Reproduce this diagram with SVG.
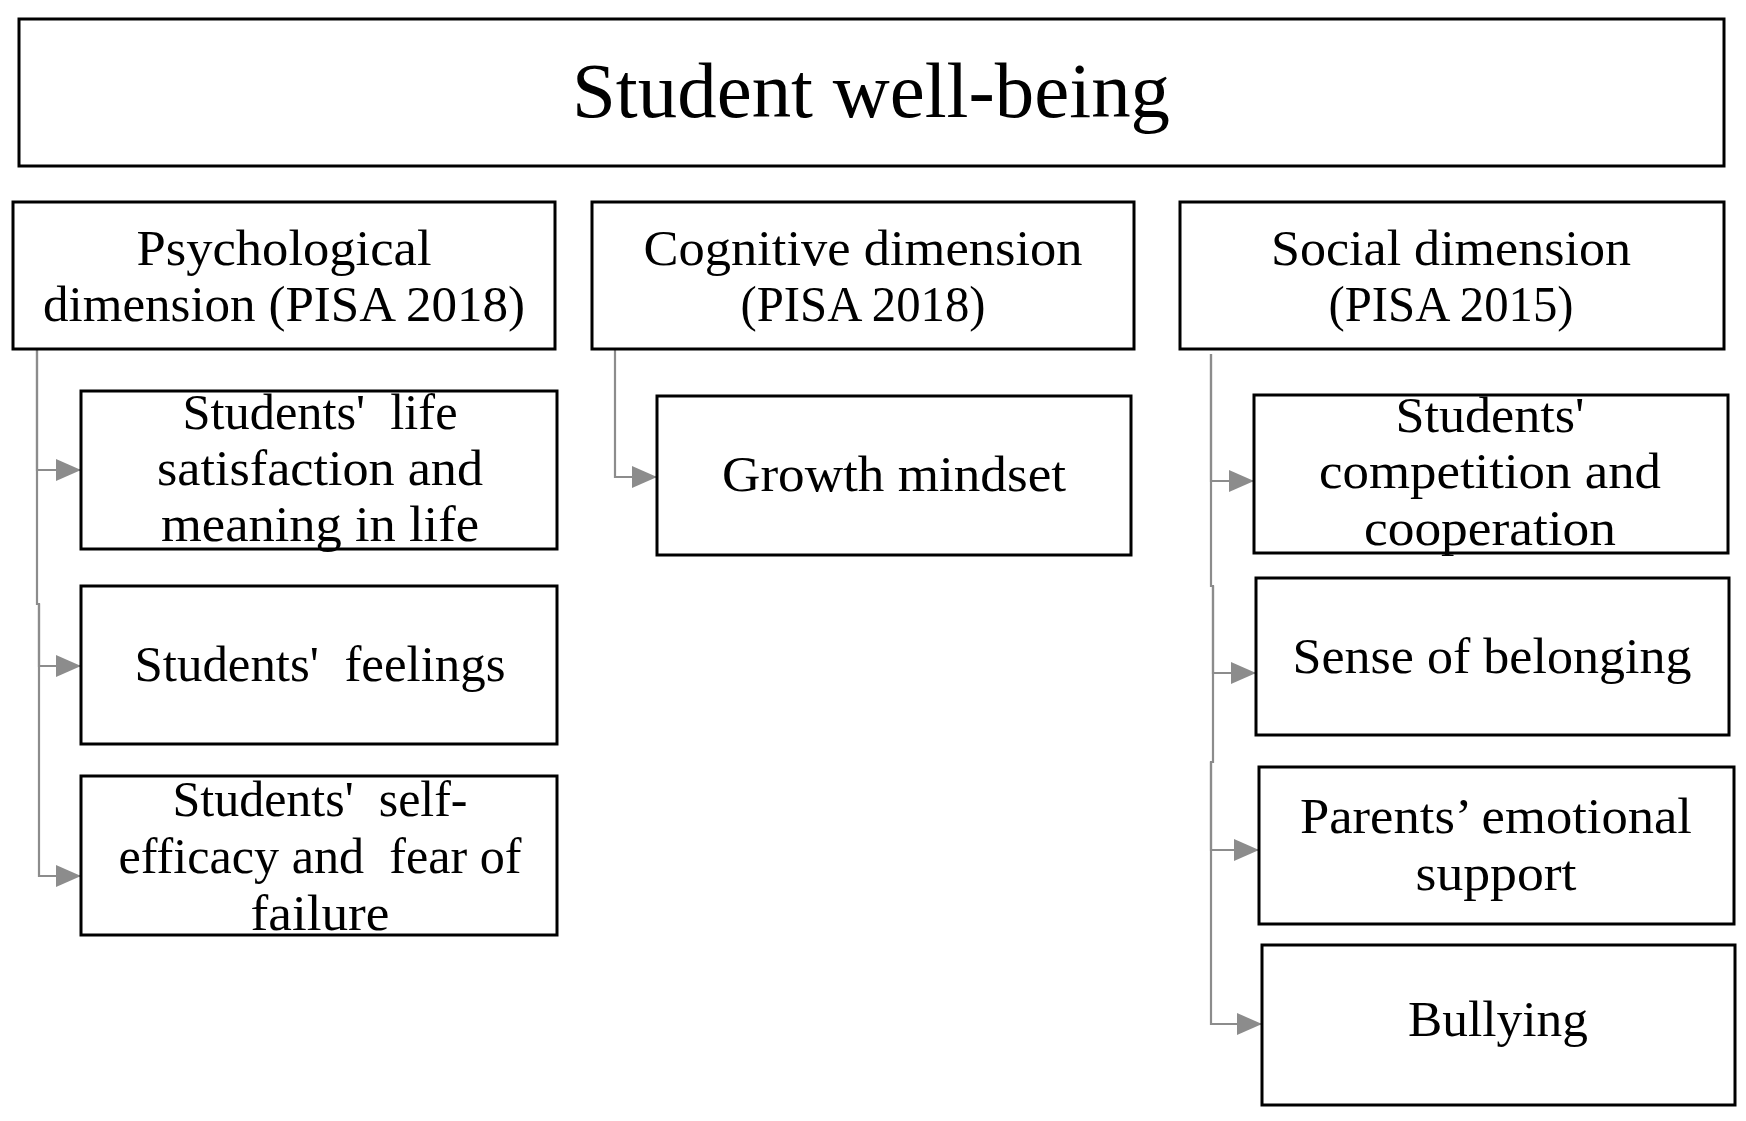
<svg xmlns="http://www.w3.org/2000/svg" width="1746" height="1121" viewBox="0 0 1746 1121">
<style>
.box{fill:#fff;stroke:#000;stroke-width:3}
.t{font-family:"Liberation Serif","Times New Roman",serif;font-size:51px;fill:#000;text-anchor:middle;white-space:pre}
.title{font-size:79px}
.c{fill:none;stroke:#8c8c8c;stroke-width:2.2}
</style>
<defs>
<marker id="ah" viewBox="0 0 10 10" refX="10" refY="5" markerWidth="25" markerHeight="22" markerUnits="userSpaceOnUse" orient="auto" preserveAspectRatio="none">
<path d="M0,0 L10,5 L0,10 Z" fill="#8c8c8c"/>
</marker>
</defs>
<rect width="1746" height="1121" fill="#fff"/>
<g id="connectors">
<path class="c" d="M37,349 V470 H81" marker-end="url(#ah)"/>
<path class="c" d="M37,349 V604 H39 V666 H81" marker-end="url(#ah)"/>
<path class="c" d="M39,604 V876 H81" marker-end="url(#ah)"/>
<path class="c" d="M615,349 V477 H657" marker-end="url(#ah)"/>
<path class="c" d="M1211,354 V481 H1254" marker-end="url(#ah)"/>
<path class="c" d="M1211,354 V586 H1213 V673 H1256" marker-end="url(#ah)"/>
<path class="c" d="M1213,586 V762 H1211 V850 H1259" marker-end="url(#ah)"/>
<path class="c" d="M1211,762 V1024 H1262" marker-end="url(#ah)"/>
</g>
<g id="root">
<rect class="box" x="19" y="19" width="1705" height="147"/>
<text class="t title" x="871" y="117" textLength="598" lengthAdjust="spacingAndGlyphs">Student well-being</text>
</g>
<g id="psych">
<rect class="box" x="13" y="202" width="542" height="147"/>
<text class="t" x="284" y="265" textLength="295" lengthAdjust="spacingAndGlyphs">Psychological</text>
<text class="t" x="284" y="321" textLength="482" lengthAdjust="spacingAndGlyphs">dimension (PISA 2018)</text>
</g>
<g id="cog">
<rect class="box" x="592" y="202" width="542" height="147"/>
<text class="t" x="863" y="265" textLength="439" lengthAdjust="spacingAndGlyphs">Cognitive dimension</text>
<text class="t" x="863" y="321" textLength="245" lengthAdjust="spacingAndGlyphs">(PISA 2018)</text>
</g>
<g id="social">
<rect class="box" x="1180" y="202" width="544" height="147"/>
<text class="t" x="1451" y="265" textLength="360" lengthAdjust="spacingAndGlyphs">Social dimension</text>
<text class="t" x="1451" y="321" textLength="245" lengthAdjust="spacingAndGlyphs">(PISA 2015)</text>
</g>
<g id="life">
<rect class="box" x="81" y="391" width="476" height="158"/>
<text class="t" x="320" y="429" textLength="275" lengthAdjust="spacingAndGlyphs">Students'  life</text>
<text class="t" x="320" y="485" textLength="326" lengthAdjust="spacingAndGlyphs">satisfaction and</text>
<text class="t" x="320" y="541" textLength="318" lengthAdjust="spacingAndGlyphs">meaning in life</text>
</g>
<g id="feelings">
<rect class="box" x="81" y="586" width="476" height="158"/>
<text class="t" x="320" y="681" textLength="371" lengthAdjust="spacingAndGlyphs">Students'  feelings</text>
</g>
<g id="selfefficacy">
<rect class="box" x="81" y="776" width="476" height="159"/>
<text class="t" x="320" y="816" textLength="295" lengthAdjust="spacingAndGlyphs">Students'  self-</text>
<text class="t" x="320" y="873" textLength="403" lengthAdjust="spacingAndGlyphs">efficacy and  fear of</text>
<text class="t" x="320" y="930" textLength="139" lengthAdjust="spacingAndGlyphs">failure</text>
</g>
<g id="growth">
<rect class="box" x="657" y="396" width="474" height="159"/>
<text class="t" x="894" y="491" textLength="344" lengthAdjust="spacingAndGlyphs">Growth mindset</text>
</g>
<g id="competition">
<rect class="box" x="1254" y="395" width="474" height="158"/>
<text class="t" x="1490" y="432" textLength="189" lengthAdjust="spacingAndGlyphs">Students'</text>
<text class="t" x="1490" y="488" textLength="342" lengthAdjust="spacingAndGlyphs">competition and</text>
<text class="t" x="1490" y="545" textLength="252" lengthAdjust="spacingAndGlyphs">cooperation</text>
</g>
<g id="belonging">
<rect class="box" x="1256" y="578" width="473" height="157"/>
<text class="t" x="1492" y="673" textLength="399" lengthAdjust="spacingAndGlyphs">Sense of belonging</text>
</g>
<g id="parents">
<rect class="box" x="1259" y="767" width="475" height="157"/>
<text class="t" x="1496" y="833" textLength="392" lengthAdjust="spacingAndGlyphs">Parents’ emotional</text>
<text class="t" x="1496" y="890" textLength="161" lengthAdjust="spacingAndGlyphs">support</text>
</g>
<g id="bullying">
<rect class="box" x="1262" y="945" width="473" height="160"/>
<text class="t" x="1498" y="1036" textLength="180" lengthAdjust="spacingAndGlyphs">Bullying</text>
</g>
</svg>
